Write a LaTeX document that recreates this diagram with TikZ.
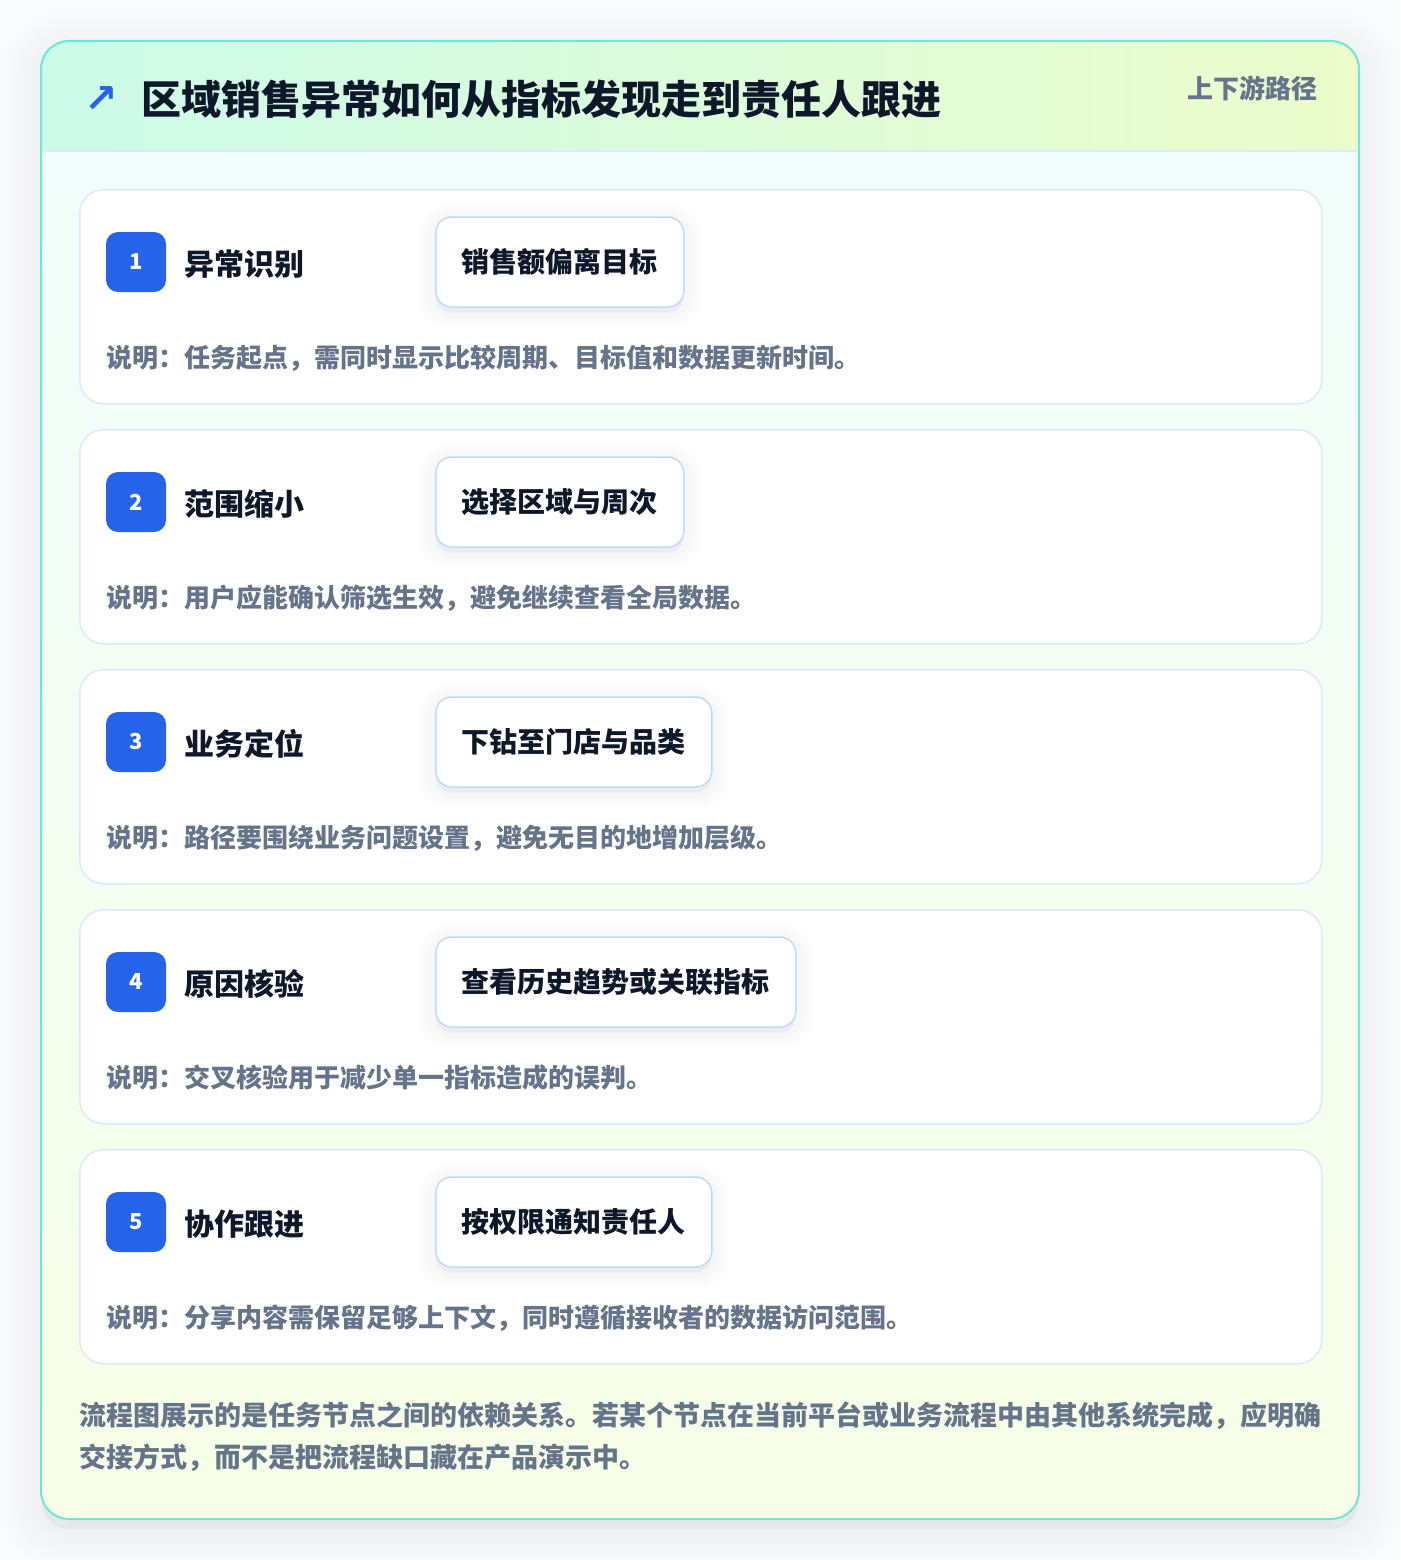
\documentclass[tikz,border=0pt]{standalone}
\usepackage{fontspec}
\setmainfont{Noto Sans CJK SC}
\newfontfamily\symfont{DejaVu Sans}

\definecolor{pagebg}{HTML}{FAFBFC}
\definecolor{outerline}{HTML}{6EE7D4}
\definecolor{headleft}{HTML}{CCFBEA}
\definecolor{headright}{HTML}{ECFCCB}
\definecolor{bodytop}{HTML}{F0FDFA}
\definecolor{bodybot}{HTML}{F7FEE7}
\definecolor{cardline}{HTML}{DBEAFE}
\definecolor{chipline}{HTML}{BFDBFE}
\definecolor{badgeblue}{HTML}{2563EB}
\definecolor{inkdark}{HTML}{0F172A}
\definecolor{inkgray}{HTML}{64748B}

\tikzset{
  softshadow/.style={preaction={draw=black, fill=black, opacity=0.006, line width=#1,
    transform canvas={yshift=-5pt}}},
  stepcard/.style={draw=cardline, line width=1.5pt, fill=white, rounded corners=24pt,
    minimum width=1242pt, minimum height=214pt, inner sep=0pt},
  badge/.style={fill=badgeblue, text=white, rounded corners=12pt, minimum size=60pt,
    inner sep=0pt, font=\fontsize{22}{26}\selectfont\bfseries},
  steptitle/.style={text=inkdark, inner sep=0pt, font=\fontsize{30}{36}\selectfont\bfseries},
  chipbox/.style={softshadow=36pt, softshadow=28pt, softshadow=20pt, softshadow=12pt, softshadow=4pt,
    draw=chipline, line width=1.5pt, fill=white, rounded corners=16pt,
    minimum height=90pt, inner xsep=26pt, inner ysep=0pt, text height=24.6pt, text depth=3.4pt,
    text=inkdark, font=\fontsize{28}{34}\selectfont\bfseries},
  desctext/.style={text=inkgray, inner sep=0pt, font=\fontsize{26}{32}\selectfont\bfseries},
  foottext/.style={text=inkgray, inner sep=0pt, font=\fontsize{27}{32}\selectfont\bfseries},
}

\begin{document}
\begin{tikzpicture}[x=1pt,y=-1pt]
\useasboundingbox (0,0) rectangle (1400,1560);
\fill[pagebg] (0,0) rectangle (1400,1560);

% outer card shadow
\foreach \w in {10,18,...,82}
  \draw[black, fill=black, opacity=0.0045, line width=\w pt, rounded corners=28pt,
    transform canvas={yshift=-10pt}] (41,41) rectangle (1359,1519);

% outer card
\fill[white, rounded corners=28pt] (41,41) rectangle (1359,1519);
\begin{scope}
  \clip[rounded corners=28pt] (41,41) rectangle (1359,1519);
  \shade[top color=bodytop, bottom color=bodybot] (41,151) rectangle (1359,1519);
  \shade[left color=headleft, right color=headright] (41,41) rectangle (1359,151);
\end{scope}
\draw[cardline, line width=1.5pt] (41,151) -- (1359,151);
\draw[outerline, line width=2pt, rounded corners=28pt] (41,41) rectangle (1359,1519);

% header
\node[text=badgeblue, inner sep=0pt, font=\symfont\bfseries\fontsize{40}{44}\selectfont] (arrow) at (101,100) {↗};
\node[text=inkdark, inner sep=0pt, anchor=base west, font=\fontsize{40}{48}\selectfont\bfseries]
  (title) at (141,115) {区域销售异常如何从指标发现走到责任人跟进};
\node[text=inkgray, inner sep=0pt, anchor=base east, font=\fontsize{26}{30}\selectfont\bfseries]
  (tag) at (1318,99) {上下游路径};

% steps
\foreach \n/\ttl/\chip/\desc [count=\i from 0] in {
  1/异常识别/销售额偏离目标/说明：任务起点，需同时显示比较周期、目标值和数据更新时间。,
  2/范围缩小/选择区域与周次/说明：用户应能确认筛选生效，避免继续查看全局数据。,
  3/业务定位/下钻至门店与品类/说明：路径要围绕业务问题设置，避免无目的地增加层级。,
  4/原因核验/查看历史趋势或关联指标/说明：交叉核验用于减少单一指标造成的误判。,
  5/协作跟进/按权限通知责任人/说明：分享内容需保留足够上下文，同时遵循接收者的数据访问范围。}
{
  \pgfmathsetmacro\cardtop{189+240*\i}
  \node[stepcard, anchor=north west] (card\n) at (79,\cardtop) {};
  \node[badge] (badge\n) at (136,{\cardtop+73}) {\n};
  \node[steptitle, anchor=base west] (title\n) at (184,{\cardtop+86}) {\ttl};
  \node[chipbox, anchor=west] (chip\n) at (435,{\cardtop+73}) {\chip};
  \node[desctext, anchor=base west] (desc\n) at (106,{\cardtop+178}) {\desc};
}

% footer note
\node[foottext, anchor=base west] (foot1) at (79,1425)
  {流程图展示的是任务节点之间的依赖关系。若某个节点在当前平台或业务流程中由其他系统完成，应明确};
\node[foottext, anchor=base west] (foot2) at (79,1467)
  {交接方式，而不是把流程缺口藏在产品演示中。};
\end{tikzpicture}
\end{document}
